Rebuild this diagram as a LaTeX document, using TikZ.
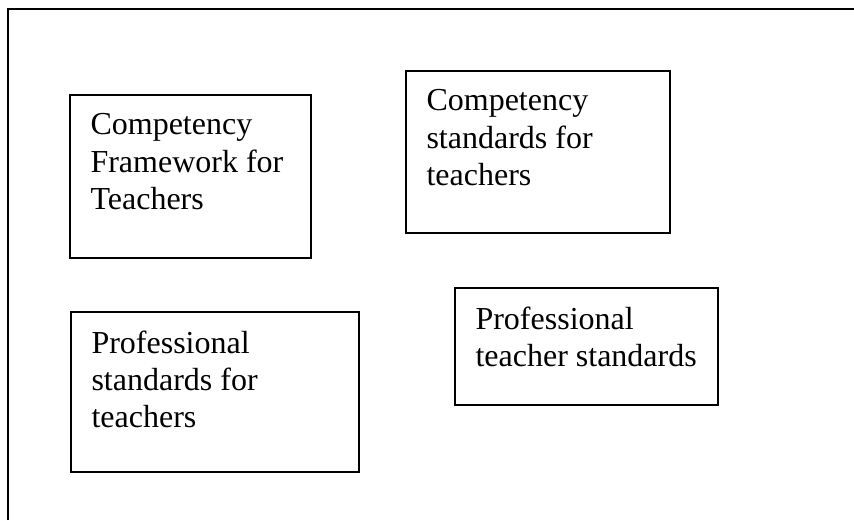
\documentclass[tikz,border=0pt]{standalone}
\usepackage{fontspec}
\setmainfont{Liberation Serif}
\usepackage{tikz}
\tikzset{
  nd_box/.style 2 args={
    rectangle, draw=black, line width=0.75pt, anchor=north west,
    inner sep=0pt, minimum width=#1*0.375pt, minimum height=#2*0.375pt},
  nd_txt/.style={
    anchor=north west, inner sep=0pt, align=left,
    font=\fontsize{12pt}{14pt}\selectfont},
  frame/.style={line width=0.75pt},
}

\begin{document}
\begin{tikzpicture}[x=0.375pt,y=0.375pt]
\useasboundingbox (0,0) rectangle (854,520);

% outer frame, open towards right and bottom
\coordinate (FB) at (8,0);
\coordinate (FC) at (8,511);
\coordinate (FR) at (854,511);
\draw[frame] (FB)--(FC)--(FR);

%% boxes
\node[nd_box={241}{163}] at (69,426)  (cf){};
\node[nd_box={264}{162}] at (405,450) (cs){};
\node[nd_box={288}{160}] at (70,209)  (ps){};
\node[nd_box={263}{117}] at (454,233) (pt){};

%% texts
\node[nd_txt] at ([shift={(21,-19)}]cf.north west) (cfT){Competency\\Framework for\\Teachers};
\node[nd_txt] at ([shift={(21,-19)}]cs.north west) (csT){Competency\\standards for\\teachers};
\node[nd_txt] at ([shift={(21,-19)}]ps.north west) (psT){Professional\\standards for\\teachers};
\node[nd_txt] at ([shift={(21,-19)}]pt.north west) (ptT){Professional\\teacher standards};

\end{tikzpicture}
\end{document}
